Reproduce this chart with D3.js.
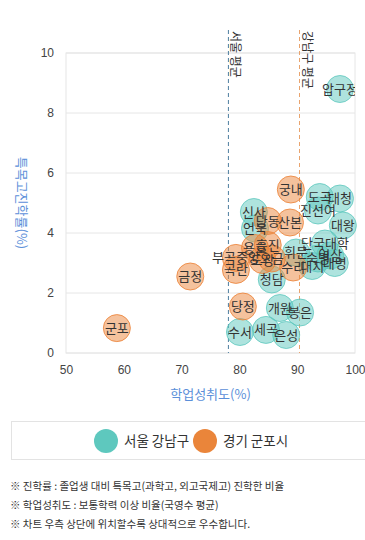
<!DOCTYPE html>
<html><head><meta charset="utf-8">
<script src="https://cdn.jsdelivr.net/npm/d3@7"></script>
<style>
body {
    margin: 0;
    background: #fff;
    font-family: "Noto Sans CJK KR", "Noto Sans", sans-serif;
}
.tick text {
    font-size: 12px;
    fill: #444;
}
.bubble-label {
    font-size: 13px;
    fill: #333;
}
.note {
    font-size: 10.5px;
    fill: #333;
}
</style></head><body>
<svg id="chart" width="365" height="540"></svg>
<script>
// 서울 강남구
const seoulSchools = ["압구정", "도곡", "대청", "진선여", "대왕", "신사", "언북", "단국대학", "휘문", "숙명", "역삼", "대명", "대치", "청담", "개원", "봉은", "수서", "세곡", "은성"];
const seoulScore = [97.4, 93.9, 97.4, 93.6, 97.9, 82.5, 82.7, 94.8, 89.8, 93.6, 95.7, 96.5, 92.6, 85.6, 87.0, 90.5, 80.1, 84.6, 88.1];
const seoulRate = [8.8, 5.2, 5.15, 4.75, 4.25, 4.7, 4.15, 3.65, 3.35, 3.15, 3.25, 3.0, 2.9, 2.45, 1.5, 1.35, 0.7, 0.77, 0.6];

// 경기 군포시
const gunpoSchools = ["궁내", "당동", "산본", "용호", "흥진", "도장", "오금", "부곡중앙", "곡란", "수리", "금정", "당정", "군포"];
const gunpoScore = [88.9, 84.9, 88.75, 82.7, 84.9, 84.0, 85.6, 79.4, 79.4, 89.3, 71.5, 80.6, 58.8];
const gunpoRate = [5.45, 4.4, 4.35, 3.5, 3.6, 3.1, 3.15, 3.17, 2.77, 2.85, 2.55, 1.55, 0.83];

const xTicks = [50, 60, 70, 80, 90, 100];
const yTicks = [0, 2, 4, 6, 8, 10];
const averages = [
    {label: "서울 평균", value: 78.1, color: "#4f7fa0"},
    {label: "강남구 평균", value: 90.4, color: "#e9a46e"}
];
const notes = [
    "※ 진학률 : 졸업생 대비 특목고(과학고, 외고국제고) 진학한 비율",
    "※ 학업성취도 : 보통학력 이상 비율(국영수 평균)",
    "※ 차트 우측 상단에 위치할수록 상대적으로 우수합니다."
];

const series = [
    {name: "서울 강남구", fill: "rgba(94,200,190,0.5)", stroke: "rgba(94,200,190,0.8)", solid: "#5ec8be",
     points: seoulSchools.map((s, i) => ({name: s, x: seoulScore[i], y: seoulRate[i]}))},
    {name: "경기 군포시", fill: "rgba(236,133,60,0.5)", stroke: "rgba(236,133,60,0.85)", solid: "#ea853a",
     points: gunpoSchools.map((s, i) => ({name: s, x: gunpoScore[i], y: gunpoRate[i]}))}
];

const svg = d3.select("#chart");
const plotLeft = 66, plotRight = 355, plotTop = 53, plotBottom = 353;

const x = d3.scaleLinear().domain([50, 100]).range([plotLeft, plotRight]);
const y = d3.scaleLinear().domain([0, 10]).range([plotBottom, plotTop]);

// grid
svg.append("g")
    .selectAll("line")
    .data(yTicks)
    .enter().append("line")
    .attr("x1", plotLeft).attr("x2", plotRight)
    .attr("y1", d => y(d)).attr("y2", d => y(d))
    .attr("stroke", "#e6e6e6");

svg.append("rect")
    .attr("x", plotLeft).attr("y", plotTop)
    .attr("width", plotRight - plotLeft).attr("height", plotBottom - plotTop)
    .attr("fill", "none").attr("stroke", "#e6e6e6");

// axes
const xAxis = svg.append("g")
    .attr("transform", `translate(0,${plotBottom})`)
    .call(d3.axisBottom(x).tickValues(xTicks).tickSize(0).tickPadding(12));
xAxis.select(".domain").remove();

const yAxis = svg.append("g")
    .attr("transform", `translate(${plotLeft},0)`)
    .call(d3.axisLeft(y).tickValues(yTicks).tickSize(0).tickPadding(12));
yAxis.select(".domain").remove();

svg.append("text")
    .attr("x", (plotLeft + plotRight) / 2)
    .attr("y", 399)
    .attr("text-anchor", "middle")
    .attr("font-size", 13)
    .attr("fill", "#5b8fd9")
    .text("학업성취도(%)");

svg.append("text")
    .attr("transform", `translate(17,${(plotTop + plotBottom) / 2}) rotate(90)`)
    .attr("text-anchor", "middle")
    .attr("font-size", 13)
    .attr("fill", "#5b8fd9")
    .text("특목고진학률(%)");

// average lines
const avg = svg.append("g");
avg.selectAll("line")
    .data(averages)
    .enter().append("line")
    .attr("x1", d => x(d.value)).attr("x2", d => x(d.value))
    .attr("y1", 30).attr("y2", plotBottom)
    .attr("stroke", d => d.color)
    .attr("stroke-dasharray", "4,3");
avg.selectAll("text")
    .data(averages)
    .enter().append("text")
    .attr("transform", d => `translate(${x(d.value) + 3},31) rotate(90)`)
    .attr("font-size", 12)
    .attr("fill", "#333")
    .text(d => d.label);

// bubbles
svg.append("defs").append("clipPath").attr("id", "plot-clip")
    .append("rect")
    .attr("x", plotLeft).attr("y", 0)
    .attr("width", plotRight - plotLeft).attr("height", plotBottom);

const plot = svg.append("g");
series.forEach(s => {
    plot.append("g")
        .selectAll("circle")
        .data(s.points)
        .enter().append("circle")
        .attr("cx", d => x(d.x))
        .attr("cy", d => y(d.y))
        .attr("r", 13.5)
        .attr("fill", s.fill)
        .attr("stroke", s.stroke)
        .attr("stroke-width", 1);
});
const labels = svg.append("g").attr("clip-path", "url(#plot-clip)");
series.forEach(s => {
    labels.append("g")
        .selectAll("text")
        .data(s.points)
        .enter().append("text")
        .attr("class", "bubble-label")
        .attr("x", d => x(d.x))
        .attr("y", d => y(d.y))
        .attr("dy", "0.35em")
        .attr("text-anchor", "middle")
        .text(d => d.name);
});

// legend
svg.append("rect")
    .attr("x", 11.5).attr("y", 421.5)
    .attr("width", 360).attr("height", 38)
    .attr("fill", "none").attr("stroke", "#e3e3e3");

const legendX = [106, 205];
const legend = svg.append("g")
    .selectAll("g")
    .data(series)
    .enter().append("g")
    .attr("transform", (d, i) => `translate(${legendX[i]},441)`);
legend.append("circle")
    .attr("r", 12)
    .attr("fill", d => d.solid);
legend.append("text")
    .attr("x", 18)
    .attr("dy", "0.35em")
    .attr("font-size", 13.5)
    .attr("fill", "#333")
    .text(d => d.name);

// notes
svg.append("g")
    .selectAll("text")
    .data(notes)
    .enter().append("text")
    .attr("class", "note")
    .attr("x", 10)
    .attr("y", (d, i) => 490 + i * 19)
    .text(d => d);
</script></body></html>
